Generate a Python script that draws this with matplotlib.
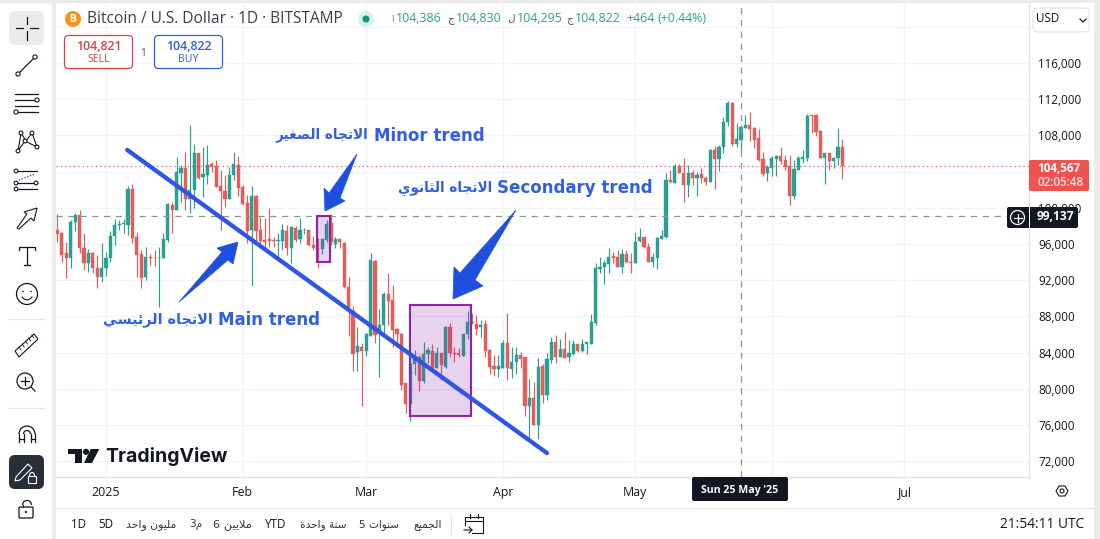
import unicodedata
import matplotlib
matplotlib.use("Agg")
import matplotlib.pyplot as plt
from matplotlib.patches import Rectangle, FancyBboxPatch, Circle, Polygon, Arc

# day number counted from 1 Jan 2025, prices in thousand USD
first_day = -11
opens = [
    97.6, 97.2, 95.0, 94.5, 98.4, 99.2, 95.6, 93.9, 95.0, 93.4,
    92.4, 93.3, 94.4, 96.9, 98.1, 98.2, 98.1, 102.1, 96.8, 94.9,
    92.3, 94.6, 94.5, 94.4, 94.5, 96.4, 100.3, 99.8, 103.9, 104.4,
    101.0, 102.0, 106.0, 103.4, 103.6, 104.8, 104.6, 102.4, 101.9, 101.0,
    103.6, 104.7, 102.3, 100.5, 97.5, 101.3, 97.6, 96.4, 96.5, 96.4,
    96.3, 96.3, 97.4, 95.6, 97.8, 96.5, 97.5, 97.5, 95.9, 95.6,
    95.4, 96.4, 98.3, 96.0, 96.5, 96.1, 91.3, 88.6, 84.1, 84.6,
    84.2, 85.8, 94.1, 86.1, 87.0, 90.5, 89.8, 86.6, 86.1, 80.6,
    78.3, 82.7, 83.5, 80.9, 83.8, 84.2, 82.3, 84.0, 82.4, 86.8,
    84.0, 84.0, 83.6, 86.0, 87.4, 87.2, 86.8, 87.2, 84.3, 82.5,
    82.2, 82.3, 85.1, 82.2, 83.0, 83.7, 83.5, 78.1, 79.0, 76.0,
    82.5, 79.3, 83.2, 85.2, 83.5, 84.4, 83.5, 83.9, 84.9, 84.2,
    84.9, 85.0, 87.3, 93.2, 93.5, 93.8, 94.7, 94.6, 93.5, 94.9,
    94.0, 93.9, 96.3, 96.8, 95.7, 94.0, 94.5, 96.6, 96.8, 103.1,
    102.7, 104.6, 103.9, 102.5, 103.9, 103.3, 103.7, 103.3, 102.9, 106.4,
    105.4, 106.7, 109.5, 111.6, 107.0, 107.5, 108.8, 109.2, 108.8, 107.7,
    105.4, 103.8, 104.4, 105.4, 105.7, 105.3, 104.6, 101.3, 104.2, 105.4,
    105.5, 110.2, 110.2, 108.5, 105.5, 106.0, 105.2, 105.5, 106.7,
]
highs = [
    99.3, 97.3, 96.2, 98.6, 99.4, 99.8, 97.2, 95.5, 95.1, 94.8,
    96.1, 95.1, 97.4, 98.8, 98.7, 98.8, 102.4, 102.6, 97.3, 95.3,
    95.7, 94.9, 95.3, 95.7, 97.2, 100.5, 100.6, 105.6, 104.7, 106.2,
    109.1, 107.0, 106.1, 106.7, 106.9, 105.1, 105.3, 104.2, 103.6, 104.5,
    106.2, 105.7, 102.5, 101.4, 102.4, 101.4, 99.0, 98.9, 100.0, 96.8,
    97.2, 98.2, 98.1, 98.0, 98.0, 98.9, 97.8, 97.6, 96.9, 96.7,
    96.7, 98.6, 99.3, 96.8, 96.6, 96.2, 92.4, 89.2, 86.8, 85.1,
    86.2, 95.0, 94.2, 88.8, 90.7, 92.8, 91.5, 86.7, 86.2, 80.6,
    83.7, 84.3, 83.7, 85.2, 84.6, 85.0, 84.6, 84.0, 86.9, 87.3,
    84.6, 84.5, 86.0, 88.6, 88.4, 88.1, 87.6, 87.6, 84.4, 83.7,
    83.7, 85.4, 88.4, 84.6, 84.6, 84.1, 83.5, 81.1, 80.8, 83.4,
    82.7, 84.0, 85.7, 85.9, 85.5, 86.3, 85.4, 85.4, 85.0, 85.5,
    85.2, 88.3, 93.9, 94.6, 94.2, 95.6, 95.1, 95.3, 95.4, 95.3,
    95.0, 97.3, 97.8, 96.8, 96.1, 95.0, 96.8, 97.5, 103.8, 104.2,
    104.8, 104.8, 105.5, 104.7, 104.2, 104.0, 104.4, 103.5, 106.5, 106.8,
    106.9, 110.0, 111.8, 111.7, 109.4, 109.2, 110.2, 110.6, 108.9, 108.7,
    106.2, 104.7, 105.7, 105.8, 106.7, 105.8, 105.8, 105.3, 105.7, 106.4,
    110.4, 110.2, 110.3, 108.6, 106.1, 106.1, 105.6, 108.8, 107.6,
]
lows = [
    96.2, 94.0, 92.2, 93.3, 97.4, 95.0, 93.1, 92.9, 92.8, 91.1,
    91.8, 92.5, 94.0, 95.9, 97.5, 97.2, 97.0, 96.1, 92.4, 91.1,
    92.0, 93.7, 93.6, 89.0, 94.4, 96.2, 97.2, 99.8, 100.6, 99.8,
    99.4, 100.0, 103.2, 101.2, 102.6, 104.0, 102.3, 97.5, 100.1, 101.0,
    103.1, 101.3, 100.3, 96.1, 91.4, 96.2, 95.9, 95.6, 95.7, 95.7,
    94.6, 95.3, 94.8, 93.9, 96.2, 96.1, 97.1, 95.8, 95.3, 93.3,
    94.9, 96.2, 95.9, 95.6, 95.6, 91.1, 85.8, 82.0, 82.0, 78.1,
    83.6, 85.8, 85.1, 81.3, 85.9, 87.0, 84.6, 84.6, 79.9, 77.3,
    76.4, 81.5, 79.8, 80.6, 82.8, 81.9, 82.3, 81.0, 82.3, 83.5,
    83.0, 83.5, 83.6, 85.5, 87.2, 85.9, 85.7, 83.5, 81.6, 81.4,
    81.3, 82.3, 81.0, 81.2, 81.6, 82.3, 77.0, 74.5, 76.0, 74.5,
    78.4, 78.8, 82.9, 82.9, 83.5, 83.4, 83.0, 83.7, 84.1, 84.1,
    83.9, 85.0, 87.0, 92.8, 91.6, 92.8, 93.9, 93.5, 92.8, 93.9,
    92.8, 93.9, 96.2, 95.6, 94.0, 93.5, 93.2, 96.5, 96.7, 102.7,
    102.7, 103.8, 100.6, 101.2, 102.5, 101.3, 102.7, 102.5, 102.9, 102.1,
    104.1, 106.1, 109.0, 106.8, 106.7, 106.3, 108.8, 107.4, 106.6, 105.2,
    103.5, 103.0, 103.5, 103.5, 104.8, 104.2, 100.3, 101.0, 104.2, 105.0,
    105.2, 108.3, 107.9, 105.5, 102.6, 104.2, 104.4, 104.7, 103.2,
]
closes = [
    97.1, 94.8, 94.5, 98.4, 99.2, 95.6, 93.9, 95.0, 93.4, 92.4,
    93.3, 94.4, 96.9, 98.1, 98.2, 98.3, 102.1, 96.7, 94.8, 92.2,
    94.6, 94.4, 94.4, 94.5, 96.6, 100.4, 99.8, 104.0, 104.4, 101.0,
    102.0, 106.0, 103.3, 103.7, 104.7, 104.5, 102.3, 101.9, 101.0, 103.6,
    104.8, 102.2, 100.4, 97.4, 101.3, 97.4, 96.3, 96.2, 96.3, 96.3,
    96.4, 97.5, 95.6, 97.9, 96.4, 97.5, 97.6, 95.9, 95.6, 95.3,
    96.5, 98.2, 96.2, 96.6, 96.2, 91.3, 88.9, 83.8, 84.7, 84.2,
    86.0, 94.2, 85.9, 87.0, 90.5, 89.7, 86.5, 86.0, 80.4, 78.3,
    82.7, 83.5, 80.9, 83.9, 84.3, 82.3, 84.0, 82.6, 86.8, 84.0,
    83.8, 83.7, 86.0, 87.4, 87.3, 86.6, 87.1, 84.2, 82.4, 82.2,
    82.5, 85.1, 82.3, 83.0, 83.7, 83.3, 78.1, 79.0, 76.0, 82.4,
    79.3, 83.3, 85.2, 83.5, 84.4, 83.4, 84.0, 84.9, 84.2, 85.0,
    85.2, 87.4, 93.3, 93.5, 93.9, 94.6, 94.5, 93.5, 94.9, 94.0,
    93.9, 96.2, 96.8, 95.7, 94.0, 94.6, 96.7, 96.9, 103.1, 102.8,
    104.6, 103.8, 102.5, 103.9, 103.3, 103.6, 103.3, 102.9, 106.4, 105.4,
    106.7, 109.5, 111.6, 107.0, 107.6, 108.9, 109.2, 108.7, 107.5, 105.3,
    103.7, 104.5, 105.5, 105.7, 105.2, 104.5, 101.3, 104.3, 105.5, 105.6,
    110.1, 110.1, 108.4, 105.5, 106.0, 105.2, 105.5, 106.7, 104.57,
]
assert len(opens) == len(highs) == len(lows) == len(closes)

month_days = [0, 31, 59, 90, 120, 151, 181]
month_labels = ["2025", "Feb", "Mar", "Apr", "May", "", "Jul"]
price_ticks = [72, 76, 80, 84, 88, 92, 96, 100, 104, 108, 112, 116, 120]
# 104,000 sits under the red price tag and 120,000 under the currency box
hidden_ticks = [104, 120]
last_price = 104.567
cross_price = 99.137
cross_day = 144

trend_days = [4.8, 100.0]
trend_prices = [106.4, 72.9]
minor_days = [47.8, 50.8]
minor_prices = [94.0, 99.1]
second_days = [68.9, 82.8]
second_prices = [77.0, 89.26]

UP = "#2ba092"
DOWN = "#e35d59"
TAG_RED = "#ef5350"
GRID = "#f0f3fa"
LINE = "#e0e3eb"
TEXT = "#131722"
BLUE = "#2f5fe3"
ARROW = "#1f4fe0"
PURPLE = "#8e24aa"

# letters that do not connect to the next one
NO_NEXT = set("اأإآدذرزوؤةى")


def ar(text):
    # matplotlib does not shape arabic, so pick the forms by hand and reverse
    out = []
    i = 0
    n = len(text)
    is_letter = lambda c: "ARABIC LETTER" in unicodedata.name(c, "")
    while i < n:
        c = text[i]
        if not is_letter(c):
            out.append(c)
            i += 1
            continue
        prev_joins = i > 0 and is_letter(text[i - 1]) and text[i - 1] not in NO_NEXT
        if c == "ل" and i + 1 < n and text[i + 1] == "ا":
            form = "FINAL" if prev_joins else "ISOLATED"
            out.append(unicodedata.lookup("ARABIC LIGATURE LAM WITH ALEF %s FORM" % form))
            i += 2
            continue
        next_joins = i + 1 < n and is_letter(text[i + 1]) and c not in NO_NEXT
        if prev_joins and next_joins:
            form = "MEDIAL"
        elif prev_joins:
            form = "FINAL"
        elif next_joins:
            form = "INITIAL"
        else:
            form = "ISOLATED"
        name = unicodedata.name(c)
        try:
            out.append(unicodedata.lookup("%s %s FORM" % (name, form)))
        except KeyError:
            out.append(unicodedata.lookup("%s ISOLATED FORM" % name))
        i += 1
    return "".join(reversed(out))


plt.rcParams["font.family"] = ["Open Sans", "DejaVu Sans"]
W, H = 1100, 539
fig = plt.figure(figsize=(W / 100, H / 100), dpi=100, facecolor="#ebebec")


def pixel_axes(z):
    a = fig.add_axes([0, 0, 1, 1], zorder=z)
    a.set_xlim(0, W)
    a.set_ylim(H, 0)
    a.axis("off")
    a.patch.set_alpha(0)
    return a


back = pixel_axes(0)
back.add_patch(Rectangle((56, 3), 1038, 536, fc="white", ec="none"))
back.add_patch(FancyBboxPatch((-6, 3), 58, 540, boxstyle="round,pad=0,rounding_size=4", fc="white", ec="none"))

# main price chart
ax = fig.add_axes([56 / W, 1 - 477 / H, (1029 - 56) / W, (477 - 3) / H], zorder=1)
ax.patch.set_alpha(0)
ax.set_xlim(-11.34, 209.3)
ax.set_ylim(116 - (477 - 63) / 9.05, 116 + 60 / 9.05)

days = [first_day + i for i in range(len(opens))]
colors = [UP if c >= o else DOWN for o, c in zip(opens, closes)]
ax.vlines(days, lows, highs, colors=colors, lw=0.85, zorder=3)
ax.bar(days, [abs(c - o) for o, c in zip(opens, closes)], bottom=[min(o, c) for o, c in zip(opens, closes)],
       width=0.72, color=colors, edgecolor=colors, lw=0.3, zorder=4)

ax.set_xticks(month_days)
ax.set_xticklabels(month_labels)
ax.set_yticks(price_ticks)
ax.set_yticklabels(["" if p in hidden_ticks else "{:,}".format(p * 1000) for p in price_ticks])
ax.yaxis.tick_right()
ax.tick_params(axis="x", length=0, pad=6.5, labelsize=8.9, labelcolor=TEXT)
ax.tick_params(axis="y", length=0, pad=6.5, labelsize=8.4, labelcolor=TEXT)
ax.grid(True, color=GRID, lw=1, zorder=0)
ax.set_axisbelow(True)
for side in ["top", "left"]:
    ax.spines[side].set_visible(False)
for side in ["bottom", "right"]:
    ax.spines[side].set_color(LINE)
    ax.spines[side].set_linewidth(1)

ax.axhline(last_price, color=DOWN, lw=0.9, ls=(0, (1, 2.5)), zorder=2)
ax.axhline(cross_price, color="#8f929b", lw=0.9, ls=(0, (5, 4.5)), zorder=6)
ax.axvline(cross_day, color="#8f929b", lw=0.9, ls=(0, (5, 4.5)), zorder=6)

ax.add_patch(Rectangle((second_days[0], second_prices[0]), second_days[1] - second_days[0],
                       second_prices[1] - second_prices[0], fc=PURPLE, alpha=0.2, ec="none", zorder=7))
ax.add_patch(Rectangle((second_days[0], second_prices[0]), second_days[1] - second_days[0],
                       second_prices[1] - second_prices[0], fc="none", ec=PURPLE, lw=1.5, zorder=7))
ax.add_patch(Rectangle((minor_days[0], minor_prices[0]), minor_days[1] - minor_days[0],
                       minor_prices[1] - minor_prices[0], fc=PURPLE, alpha=0.2, ec="none", zorder=7))
ax.add_patch(Rectangle((minor_days[0], minor_prices[0]), minor_days[1] - minor_days[0],
                       minor_prices[1] - minor_prices[0], fc="none", ec=PURPLE, lw=1.5, zorder=7))
ax.plot(trend_days, trend_prices, color="#2f55e6", lw=3.1, solid_capstyle="round", zorder=8)

# everything in pixel positions from here on
top = pixel_axes(3)


def txt(x, y, s, size=8.6, color=TEXT, ha="left", weight="normal", family=None):
    return top.text(x, y, s, fontsize=size, color=color, ha=ha, va="center", fontweight=weight,
                    family=family if family else ["Open Sans", "DejaVu Sans"], zorder=10)


# arrows
top.add_patch(Polygon([(179, 302), (222, 252), (217, 248), (238, 242), (233, 264), (228, 260)], fc=ARROW, ec=ARROW, lw=0.5))
top.add_patch(Polygon([(357, 154), (329, 193), (324, 188), (325, 211), (345, 201), (340, 198)], fc=ARROW, ec=ARROW, lw=0.5))
top.add_patch(Polygon([(516, 210), (460, 273), (454, 267), (453, 299), (483, 286), (475, 280)], fc=ARROW, ec=ARROW, lw=0.5))

# drawing labels
ann = ["DejaVu Sans"]
txt(485, 136, "Minor trend", 12, BLUE, "right", "bold", ann)
txt(368, 135, ar("الاتجاه الصغير"), 9.8, BLUE, "right", "bold", ann)
txt(653, 188, "Secondary trend", 12, BLUE, "right", "bold", ann)
txt(492, 188, ar("الاتجاه الثانوي"), 9.8, BLUE, "right", "bold", ann)
txt(320, 320, "Main trend", 12, BLUE, "right", "bold", ann)
txt(213, 320, ar("الاتجاه الرئيسي"), 10.4, BLUE, "right", "bold", ann)

# header
top.add_patch(Circle((73, 19), 8, fc="#f7931a", ec="none"))
txt(73, 19, "B", 7.5, "white", "center", "bold")
txt(87, 19, "Bitcoin / U.S. Dollar · 1D · BITSTAMP", 11.2, "#3a3e4a")
top.add_patch(Circle((366, 19), 8, fc="#d9f0ee", ec="none"))
top.add_patch(Circle((366, 19), 3.5, fc="#089981", ec="none"))
txt(391, 19, "ا", 6.5, "#6a6d78")
txt(396, 19, "104,386", 8.9, UP)
txt(447, 20, ar("ج"), 7.5, "#50535e")
txt(456, 19, "104,830", 8.9, UP)
txt(507, 19, ar("ل"), 7.5, "#50535e")
txt(517, 19, "104,295", 8.9, UP)
txt(566, 20, ar("ج"), 7.5, "#50535e")
txt(575, 19, "104,822", 8.9, UP)
txt(626, 19, "+464", 8.9, UP)
txt(658, 19, "(+0.44%)", 8.9, UP)

# sell and buy boxes
for x0, col, val, lab in [(64.5, "#d9414e", "104,821", "SELL"), (154.5, "#2f62d8", "104,822", "BUY")]:
    top.add_patch(FancyBboxPatch((x0, 35.5), 68, 33, boxstyle="round,pad=0,rounding_size=4", fc="white", ec=col, lw=0.9))
    txt(x0 + 34, 46, val, 8.9, col, "center", "semibold")
    txt(x0 + 34, 60, lab, 7.6, col, "center")
txt(143, 53, "1", 7.2, "#50535e", "center")

# right scale tags
top.add_patch(FancyBboxPatch((1033, 8), 56, 24, boxstyle="round,pad=0,rounding_size=4", fc="white", ec=LINE, lw=0.8))
txt(1036, 19, "USD", 8.4)
top.plot([1080, 1083, 1086], [19, 22, 19], color=TEXT, lw=0.9)
top.add_patch(FancyBboxPatch((1029, 160), 60, 31, boxstyle="round,pad=0,rounding_size=2", fc=TAG_RED, ec="none"))
txt(1037, 168, "104,567", 8.4, "white", weight="bold")
txt(1037, 182, "02:05:48", 8.4, "#ffe3e2", weight="semibold")
top.add_patch(FancyBboxPatch((1007, 207), 71, 21, boxstyle="round,pad=0,rounding_size=2", fc=TEXT, ec="none"))
top.plot([1029, 1029], [207, 228], color="#ffffff", lw=0.7)
top.add_patch(Circle((1017.5, 217.5), 7, fc="none", ec="white", lw=0.9))
top.plot([1013.5, 1021.5], [217.5, 217.5], color="white", lw=0.9)
top.plot([1017.5, 1017.5], [213.5, 221.5], color="white", lw=0.9)
txt(1037, 217, "99,137", 8.6, "white", weight="bold")

# crosshair date label
top.add_patch(FancyBboxPatch((692, 477), 96, 24, boxstyle="round,pad=0,rounding_size=2", fc=TEXT, ec="none"))
txt(740, 491, "Sun 25 May '25", 7.6, "white", "center", "bold")

# TradingView mark
top.add_patch(Polygon([(68, 449), (82, 449), (82, 463), (75, 463), (75, 454), (68, 454)], fc=TEXT, ec="none"))
top.add_patch(Circle((86, 451.8), 3.1, fc=TEXT, ec="none"))
top.add_patch(Polygon([(90.7, 449), (99.3, 449), (92, 463), (84, 463)], fc=TEXT, ec="none"))
txt(105, 456, "TradingView", 14, TEXT, weight="bold", family=["Inter", "DejaVu Sans"])

# bottom bar
top.plot([56, 1094], [508, 508], color=LINE, lw=0.8)
top.plot([451, 451], [516, 534], color=LINE, lw=0.8)
bar_font = ["DejaVu Sans"]
txt(71, 525, "1D", 8.4)
txt(98, 525, "5D", 8.4)
txt(126, 525, ar("مليون واحد"), 7.8, "#333", family=bar_font)
txt(189, 525, "3" + ar("م"), 7.6, "#333", family=bar_font)
txt(213, 525, "6 " + ar("ملايين"), 8.2, "#333", family=bar_font)
txt(264, 525, "YTD", 8.4)
txt(300, 525, ar("سنة واحدة"), 7.6, "#333", family=bar_font)
txt(359, 525, "5 " + ar("سنوات"), 7.6, "#333", family=bar_font)
txt(413, 525, ar("الجميع"), 7.8, "#333", family=bar_font)
txt(1084, 525, "21:54:11 UTC", 9.9, ha="right")

# calendar icon
top.plot([465, 465], [517, 525], color=TEXT, lw=0.8)
top.plot([483, 483, 472], [517, 533, 533], color=TEXT, lw=0.8)
top.plot([465, 483], [517, 517], color=TEXT, lw=0.8)
top.plot([465, 483], [521, 521], color=TEXT, lw=0.8)
top.plot([470, 470], [514, 518], color=TEXT, lw=0.8)
top.plot([478, 478], [514, 518], color=TEXT, lw=0.8)
top.plot([464, 472, 469], [530, 530, 527], color=TEXT, lw=0.8)
top.plot([472, 469], [530, 533], color=TEXT, lw=0.8)

# chart settings icon
top.add_patch(Polygon([(1056, 491), (1059, 486), (1065, 486), (1068, 491), (1065, 496), (1059, 496)], fc="none", ec=TEXT, lw=0.8))
top.add_patch(Circle((1062, 491), 2, fc="none", ec=TEXT, lw=0.8))

# left toolbar icons
ICON = "#131722"
top.add_patch(FancyBboxPatch((9, 11), 35, 34, boxstyle="round,pad=0,rounding_size=6", fc="#ebebec", ec="none"))
top.plot([16, 23], [28, 28], color=ICON, lw=0.9)
top.plot([30, 38], [28, 28], color=ICON, lw=0.9)
top.plot([27, 27], [17, 24], color=ICON, lw=0.9)
top.plot([27, 27], [31, 40], color=ICON, lw=0.9)


def dot(x, y, r=2.1):
    top.add_patch(Circle((x, y), r, fc="white", ec=ICON, lw=0.8, zorder=5))


# line
top.plot([18, 35], [74, 57], color=ICON, lw=0.9)
dot(18, 74)
dot(35, 57)
# channels
for yy in [94, 100, 106, 112]:
    top.plot([15, 38], [yy, yy], color=ICON, lw=0.9)
dot(37, 100)
dot(16, 112)
# pattern
top.plot([18, 21, 26, 32, 37, 25, 18], [151, 133, 141, 133, 147, 141, 151], color=ICON, lw=0.8)
for px, py in [(18, 151), (21, 133), (25, 141), (32, 133), (37, 147)]:
    dot(px, py, 1.9)
# fib
top.plot([17, 37], [171, 171], color=ICON, lw=0.9)
top.plot([17, 37], [183, 183], color=ICON, lw=0.9)
top.plot([17, 37], [189, 189], color=ICON, lw=0.9)
top.plot([19, 35], [180, 174], color=ICON, lw=0.8, ls=":")
for px, py in [(16, 171), (16, 183), (16, 189), (36, 183)]:
    dot(px, py, 1.9)
# arrow pencil
top.add_patch(Polygon([(17, 228), (27, 214), (24, 212), (37, 208), (34, 221), (31, 218), (19, 229)], fc="white", ec=ICON, lw=0.8))
# text
top.plot([27, 27], [247, 265], color=ICON, lw=0.9)
top.plot([19, 19, 35, 35], [250, 247, 247, 250], color=ICON, lw=0.9)
top.plot([24, 30], [265, 265], color=ICON, lw=0.9)
# smile
top.add_patch(Circle((27, 294), 10.5, fc="none", ec=ICON, lw=0.9))
top.add_patch(Circle((23, 291.5), 0.8, fc=ICON, ec="none"))
top.add_patch(Circle((31, 291.5), 0.8, fc=ICON, ec="none"))
top.plot([22, 24, 27, 30, 32], [297, 299, 300, 299, 297], color=ICON, lw=0.8)
# separators
top.plot([8, 45], [319, 319], color=LINE, lw=0.8)
top.plot([8, 45], [408, 408], color=LINE, lw=0.8)
# ruler
top.add_patch(Polygon([(15, 351), (34, 334), (38, 339), (19, 357)], fc="white", ec=ICON, lw=0.8))
for k in range(5):
    top.plot([19 + 3.2 * k, 21 + 3.2 * k], [347 - 3 * k, 350 - 3 * k], color=ICON, lw=0.6)
# magnifier
top.add_patch(Circle((25, 381), 8, fc="none", ec=ICON, lw=0.9))
top.plot([31, 35], [387, 391], color=ICON, lw=0.9)
top.plot([21, 29], [381, 381], color=ICON, lw=0.9)
top.plot([25, 25], [377, 385], color=ICON, lw=0.9)
# magnet
top.plot([19, 19], [442, 434], color=ICON, lw=0.9)
top.plot([35, 35], [442, 434], color=ICON, lw=0.9)
top.add_patch(Arc((27, 434), 16, 16, theta1=180, theta2=360, ec=ICON, lw=0.9))
top.add_patch(Arc((27, 434), 7, 7, theta1=180, theta2=360, ec=ICON, lw=0.9))
top.plot([23.5, 23.5], [434, 442], color=ICON, lw=0.9)
top.plot([30.5, 30.5], [434, 442], color=ICON, lw=0.9)
top.plot([19, 23.5], [439, 439], color=ICON, lw=0.9)
top.plot([30.5, 35], [439, 439], color=ICON, lw=0.9)
# drawing lock, active
top.add_patch(FancyBboxPatch((9, 455), 35, 34, boxstyle="round,pad=0,rounding_size=6", fc="#2a2e39", ec="none"))
top.add_patch(Polygon([(16, 477), (28, 464), (32, 468), (20, 480), (15, 481)], fc="none", ec="white", lw=0.8))
top.add_patch(Rectangle((28, 476), 8, 7, fc="none", ec="white", lw=0.8))
top.add_patch(Arc((32, 476), 5, 7, theta1=180, theta2=360, ec="white", lw=0.8))
# open lock
top.add_patch(FancyBboxPatch((19, 507), 14, 11, boxstyle="round,pad=0,rounding_size=1", fc="none", ec=ICON, lw=0.9))
top.add_patch(Arc((27, 505), 9, 9, theta1=180, theta2=360, ec=ICON, lw=0.9))
top.plot([22.5, 22.5], [505, 507], color=ICON, lw=0.9)
top.add_patch(Circle((26, 512), 1.1, fc=ICON, ec="none"))

fig.savefig("out.png", dpi=100)
